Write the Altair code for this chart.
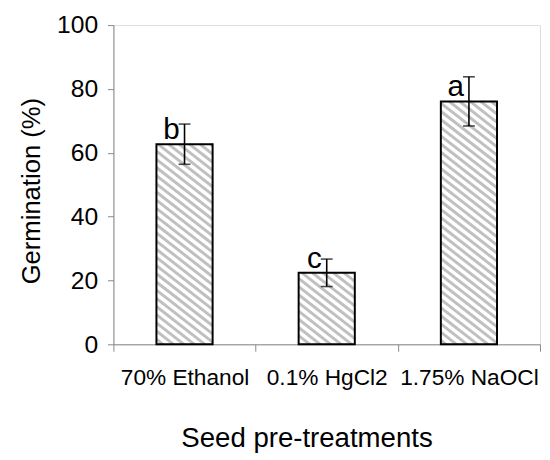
import json
import altair as alt
import pandas as pd

# ---- data ----
treatments = ["70% Ethanol", "0.1% HgCl2", "1.75% NaOCl"]
germination = [62.7, 22.4, 76.1]
std_err = [6.3, 4.3, 7.7]
letters = ["b", "c", "a"]

W, H = 433, 324
X_MAX, Y_MAX = 3, 100
BAR_HALF = 0.1975            # half bar width in x units
FONT = "Liberation Sans"

pos = [i + 0.5 for i in range(len(treatments))]
df = pd.DataFrame({
    "pos": pos,
    "left": [p - BAR_HALF for p in pos],
    "right": [p + BAR_HALF for p in pos],
    "treatment": treatments,
    "germ": germination,
    "lo": [g - e for g, e in zip(germination, std_err)],
    "hi": [g + e for g, e in zip(germination, std_err)],
    "letter": letters,
})

# ---- hatch pattern (diagonal stripes) clipped to each bar ----
kx, ky = W / X_MAX, H / Y_MAX
slope, spacing = 0.78, 8.3
segs = []
for _, r in df.iterrows():
    xl, xr = r["left"] * kx, r["right"] * kx
    yt, yb = (Y_MAX - r["germ"]) * ky, H
    c = -slope * W - spacing * 2
    while c < yb - slope * xl:
        if c > yt - slope * xr - spacing:
            xa = max(xl, (yt - c) / slope)
            xb = min(xr, (yb - c) / slope)
            if xb > xa:
                segs.append({
                    "x": xa / kx, "x2": xb / kx,
                    "y": Y_MAX - (c + slope * xa) / ky,
                    "y2": Y_MAX - (c + slope * xb) / ky,
                })
        c += spacing
hatch_df = pd.DataFrame(segs)

xscale = alt.Scale(domain=[0, X_MAX], nice=False, zero=False)
yscale = alt.Scale(domain=[0, Y_MAX], nice=False)

label_expr = json.dumps(treatments) + "[datum.value] || ''"

x_axis = alt.Axis(
    values=[0, 1, 2, 3], labelExpr=label_expr, labelOffset=kx / 2,
    labelFlush=False, labelOverlap=False, labelBound=False,
    title="Seed pre-treatments", grid=False,
    tickSize=7, labelPadding=16, titlePadding=36, titleX=196,
    labelFontSize=23, titleFontSize=28, titleFontWeight="normal",
    labelFont=FONT, titleFont=FONT,
)
y_axis = alt.Axis(
    values=[0, 20, 40, 60, 80, 100], title="Germination (%)", grid=False,
    tickSize=6, labelPadding=10, titlePadding=12, titleY=168,
    labelFontSize=25, titleFontSize=26, titleFontWeight="normal",
    labelFont=FONT, titleFont=FONT,
)

hatch = alt.Chart(hatch_df).mark_rule(color="#c0c0c0", strokeWidth=3).encode(
    x=alt.X("x:Q", scale=xscale, axis=x_axis),
    x2="x2:Q",
    y=alt.Y("y:Q", scale=yscale, axis=y_axis),
    y2="y2:Q",
)

base = alt.Chart(df)

outline = base.mark_bar(fill="white", fillOpacity=0, stroke="black", strokeWidth=2).encode(
    x=alt.X("left:Q", scale=xscale), x2="right:Q",
    y=alt.Y("germ:Q", scale=yscale), y2=alt.datum(0),
)

err = base.mark_rule(color="black", strokeWidth=1.6).encode(
    x=alt.X("pos:Q", scale=xscale),
    y=alt.Y("lo:Q", scale=yscale), y2="hi:Q",
)
cap_hi = base.mark_tick(color="black", orient="horizontal", size=12, thickness=1.6).encode(
    x=alt.X("pos:Q", scale=xscale), y=alt.Y("hi:Q", scale=yscale),
)
cap_lo = base.mark_tick(color="black", orient="horizontal", size=12, thickness=1.6).encode(
    x=alt.X("pos:Q", scale=xscale), y=alt.Y("lo:Q", scale=yscale),
)

txt = base.mark_text(fontSize=30, font=FONT, color="black", align="right",
                     baseline="alphabetic", dx=-5, dy=-5).encode(
    x=alt.X("pos:Q", scale=xscale), y=alt.Y("germ:Q", scale=yscale),
    text="letter:N",
)

chart = alt.layer(hatch, outline, err, cap_hi, cap_lo, txt).properties(
    width=W, height=H,
    autosize=alt.AutoSizeParams(type="none"),
    padding={"left": 107, "top": 14, "right": 2, "bottom": 110},
).configure_view(stroke=None).configure_axis(
    domainColor="black", tickColor="black", labelColor="black", titleColor="black",
    domainWidth=1, tickWidth=1,
).configure(background="white")

chart.save("out.html", embed_options={"renderer": "svg", "actions": False})
